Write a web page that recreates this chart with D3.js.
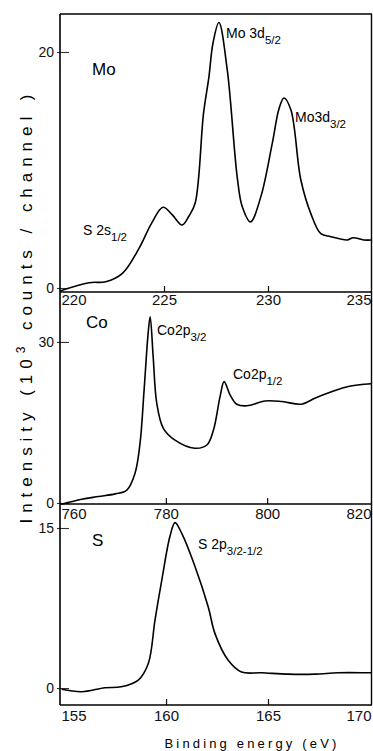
<!DOCTYPE html>
<html>
<head>
<meta charset="utf-8">
<script src="https://cdn.jsdelivr.net/npm/d3@7.9.0/dist/d3.min.js"></script>
<style>
  html, body { margin: 0; padding: 0; background: #fff; }
  svg { display: block; font-family: "Liberation Sans", Arial, sans-serif; }
</style>
</head>
<body>
<svg id="chart" width="373" height="751"></svg>
<script>
// Mo 3d region
const moEnergy = [220.0, 221.4, 222.2, 223.0, 223.8, 224.4, 224.95, 225.4, 225.87, 226.2, 226.5, 226.9, 227.16, 227.35, 227.64, 228.04, 228.52, 228.76, 229.16, 229.65, 230.21, 230.53, 230.77, 231.1, 231.58, 232.06, 232.54, 233.02, 233.8, 234.1, 234.6, 235.0];
const moCounts = [-0.25, 0.45, 0.53, 1.24, 3.36, 5.48, 6.84, 6.2, 5.34, 6.1, 7.2, 14.8, 17.9, 20.7, 22.5, 18.5, 9.4, 6.9, 5.6, 7.7, 12.3, 15.2, 16.1, 15.1, 9.15, 6.3, 4.6, 4.35, 4.07, 4.26, 4.07, 4.07];

// Co 2p region
const coEnergy = [759.4, 763.4, 766.7, 770.0, 772.3, 773.9, 774.9, 775.7, 776.5, 776.9, 777.5, 778.2, 779.5, 781.8, 785.7, 788.1, 789.4, 790.7, 791.5, 792.7, 794.0, 796.0, 799.6, 802.9, 806.8, 809.4, 812.7, 816.0, 820.6];
const coCounts = [-0.25, 0.7, 1.2, 1.7, 2.4, 5.5, 11.1, 21.0, 31.6, 34.7, 27.2, 18.6, 13.9, 11.7, 10.2, 10.8, 13.6, 19.8, 22.6, 20.1, 18.4, 18.1, 19.0, 18.9, 18.4, 19.5, 20.7, 21.7, 22.2];

// S 2p region
const sEnergy = [154.88, 155.86, 157.0, 157.8, 158.64, 159.13, 159.46, 159.79, 160.19, 160.44, 160.77, 161.42, 162.07, 162.4, 163.05, 163.7, 164.69, 166.0, 167.3, 168.44, 169.9, 170.1];
const sCounts = [-0.12, -0.35, 0.03, 0.12, 0.75, 2.3, 6.4, 10.1, 14.2, 15.5, 14.5, 11.4, 7.6, 5.1, 2.6, 1.5, 1.43, 1.3, 1.3, 1.43, 1.43, 1.43];

const moTicksX = [220, 225, 230, 235];
const coTicksX = [760, 780, 800, 820];
const sTicksX = [155, 160, 165, 170];
const moTicksY = [0, 20];
const coTicksY = [0, 30];
const sTicksY = [0, 15];

const svg = d3.select("#chart");
const left = 60, right = 372;

const panels = [
  { name: "Mo", energy: moEnergy, counts: moCounts, xt: moTicksX, yt: moTicksY,
    xd: [220, 235], yd: [-0.34, 23.22], top: 14, bottom: 292, labelPad: 2,
    tag: [92, 75],
    notes: [
      { main: "Mo 3d", sub: "5/2", x: 226, y: 38 },
      { main: "Mo3d", sub: "3/2", x: 295, y: 122 },
      { main: "S 2s", sub: "1/2", x: 83, y: 235 }
    ] },
  { name: "Co", energy: coEnergy, counts: coCounts, xt: coTicksX, yt: coTicksY,
    xd: [759.1, 820.7], yd: [-0.19, 39.3], top: 292, bottom: 504, labelPad: 4,
    tag: [86, 328],
    notes: [
      { main: "Co2p", sub: "3/2", x: 157, y: 335 },
      { main: "Co2p", sub: "1/2", x: 233, y: 379 }
    ] },
  { name: "S", energy: sEnergy, counts: sCounts, xt: sTicksX, yt: sTicksY,
    xd: [154.8, 170.1], yd: [-1.59, 17.25], top: 504, bottom: 705, labelPad: 5,
    tag: [92, 546],
    notes: [
      { main: "S 2p", sub: "3/2-1/2", x: 198, y: 549 }
    ] }
];

panels.forEach(p => {
  const x = d3.scaleLinear().domain(p.xd).range([left, right]);
  const y = d3.scaleLinear().domain(p.yd).range([p.bottom, p.top]);
  const g = svg.append("g");

  // bottom axis, ticks pointing up into the panel
  const xa = g.append("g")
    .attr("transform", `translate(0,${p.bottom})`)
    .call(d3.axisBottom(x).tickValues(p.xt).tickSizeInner(-6).tickSizeOuter(0).tickPadding(p.labelPad));
  xa.select(".domain").remove();
  xa.selectAll("text").style("font-size", "15px").attr("fill", "#111");
  xa.selectAll(".tick").filter((d, i) => i === 0 || i === p.xt.length - 1).select("line").remove();
  xa.selectAll(".tick").filter((d, i) => i === 0).select("text").attr("text-anchor", "start").attr("x", left - x(p.xt[0]) + 1);
  xa.selectAll(".tick").filter((d, i) => i === p.xt.length - 1).select("text").attr("text-anchor", "end").attr("x", right - 1 - x(p.xt[p.xt.length - 1]));
  xa.selectAll("line").attr("stroke", "#111").attr("stroke-width", 1.2);

  // left axis, ticks pointing in
  const ya = g.append("g")
    .attr("transform", `translate(${left},0)`)
    .call(d3.axisLeft(y).tickValues(p.yt).tickSizeInner(-9).tickSizeOuter(0).tickPadding(6));
  ya.select(".domain").remove();
  ya.selectAll("text").style("font-size", "14px").attr("fill", "#111");
  ya.selectAll("line").attr("stroke", "#333").attr("stroke-width", 1.1).attr("x1", -3);

  // frame lines
  g.append("line").attr("x1", left).attr("x2", right).attr("y1", p.bottom).attr("y2", p.bottom)
    .attr("stroke", "#000").attr("stroke-width", 1.6);
  g.append("line").attr("x1", left).attr("x2", left).attr("y1", p.top).attr("y2", p.bottom)
    .attr("stroke", "#000").attr("stroke-width", 1.6);
  g.append("line").attr("x1", right - 0.5).attr("x2", right - 0.5).attr("y1", p.top).attr("y2", p.bottom)
    .attr("stroke", "#000").attr("stroke-width", 1.4);

  // spectrum
  const line = d3.line()
    .x((d, i) => x(p.energy[i]))
    .y(d => y(d))
    .curve(d3.curveCatmullRom.alpha(0.5));
  g.append("path").datum(p.counts)
    .attr("d", line)
    .attr("fill", "none")
    .attr("stroke", "#000")
    .attr("stroke-width", 1.6)
    .attr("stroke-linejoin", "round");

  // element tag
  g.append("text").attr("x", p.tag[0]).attr("y", p.tag[1])
    .style("font-size", "17px").text(p.name);

  // peak labels
  p.notes.forEach(n => {
    const t = g.append("text").attr("x", n.x).attr("y", n.y).style("font-size", "14px");
    t.append("tspan").text(n.main);
    t.append("tspan").attr("dy", 6).style("font-size", "11.5px").text(n.sub);
  });
});

// top frame line
svg.append("line").attr("x1", left).attr("x2", right).attr("y1", 14).attr("y2", 14)
  .attr("stroke", "#000").attr("stroke-width", 1.6);

// y-axis title
const yt = svg.append("text")
  .attr("transform", "translate(32,306) rotate(-90)")
  .attr("text-anchor", "middle")
  .style("font-size", "17px");
yt.append("tspan").text("Intensity  (10");
yt.append("tspan").attr("dy", -7).style("font-size", "12px").text("3");
yt.append("tspan").attr("dy", 7).text(" counts / channel )");
const yLen = yt.node().getComputedTextLength();
yt.style("letter-spacing", ((435 - yLen) / 33) + "px");

// x-axis title
const xt = svg.append("text")
  .attr("x", 252).attr("y", 748)
  .attr("text-anchor", "middle")
  .style("font-size", "13px")
  .text("Binding energy (eV)");
const xLen = xt.node().getComputedTextLength();
xt.style("letter-spacing", ((175 - xLen) / 19) + "px");
</script>
</body>
</html>
